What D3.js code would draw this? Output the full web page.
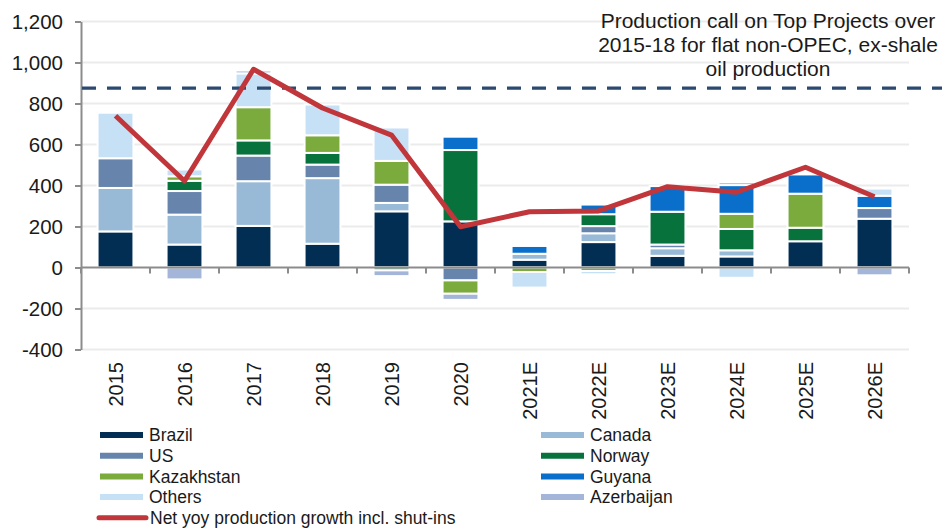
<!DOCTYPE html>
<html>
<head>
<meta charset="utf-8">
<script src="https://cdn.jsdelivr.net/npm/d3@7"></script>
<style>
  body { margin: 0; background: #fff; }
  svg text { font-family: 'Liberation Sans', Arial, sans-serif; fill: #1a1a1a; }
  .grid line { stroke: #ebebeb; stroke-width: 2; }
</style>
</head>
<body>
<div id="chart"></div>
<script>
const years = ['2015', '2016', '2017', '2018', '2019', '2020', '2021E', '2022E', '2023E', '2024E', '2025E', '2026E']
const brazil = [176, 112, 203, 116, 274, 225, 38, 124, 57, 54, 128, 238]
const canada = [212, 146, 218, 320, 41, 0, 29, 43, 37, 30, 0, 0]
const us = [145, 115, 125, 66, 89, -63, 0, 35, 18, 0, 0, 52]
const norway = [0, 50, 74, 57, -14, 348, 0, 58, 160, 104, 66, 0]
const kazakhstan = [0, 22, 162, 86, 116, -65, -22, -17, 0, 74, 166, 0]
const guyana = [0, 0, 0, 0, 0, 65, 38, 47, 125, 140, 94, 60]
const others = [222, 33, 165, 150, 163, 0, -76, -16, 0, -50, 0, 35]
const azerbaijan = [0, -58, 14, 0, -28, -30, 0, 0, 0, 14, 0, -38]
const netGrowth = [740, 422, 967, 778, 646, 199, 272, 276, 394, 367, 489, 345]
const productionCall = 875
const yTicks = [-400, -200, 0, 200, 400, 600, 800, 1000, 1200]

const series = [
  { key: 'Brazil', values: brazil, color: '#032e54' },
  { key: 'Canada', values: canada, color: '#98bad7' },
  { key: 'US', values: us, color: '#6684ac' },
  { key: 'Norway', values: norway, color: '#08723c' },
  { key: 'Kazakhstan', values: kazakhstan, color: '#7aab3c' },
  { key: 'Guyana', values: guyana, color: '#0a6fca' },
  { key: 'Others', values: others, color: '#c6e0f5' },
  { key: 'Azerbaijan', values: azerbaijan, color: '#a3b5d8' }
]

const w = 942
const h = 529
const left = 81
const right = 909

const rows = years.map((y, i) => {
  const r = { year: y }
  series.forEach((s) => (r[s.key] = s.values[i]))
  return r
})

const stack = d3
  .stack()
  .keys(series.map((s) => s.key))
  .offset(d3.stackOffsetDiverging)
const stacked = stack(rows)

const x = d3.scaleBand().domain(years).range([left, right]).paddingInner(0.48).paddingOuter(0.24)
const y = d3.scaleLinear().domain([-400, 1200]).range([349.5, 21.5])

const svg = d3.select('#chart').append('svg').attr('width', w).attr('height', h)

// grid
svg
  .append('g')
  .attr('class', 'grid')
  .selectAll('line')
  .data(yTicks.filter((d) => d !== 0))
  .join('line')
  .attr('x1', left)
  .attr('x2', right)
  .attr('y1', (d) => y(d))
  .attr('y2', (d) => y(d))

// bars
const colorOf = {}
series.forEach((s) => (colorOf[s.key] = s.color))
svg
  .append('g')
  .selectAll('g')
  .data(stacked)
  .join('g')
  .attr('fill', (d) => colorOf[d.key])
  .selectAll('rect')
  .data((d) => d.filter((p) => p[1] - p[0] !== 0))
  .join('rect')
  .attr('x', (d) => x(d.data.year))
  .attr('width', x.bandwidth())
  .attr('y', (d) => y(d[1]))
  .attr('height', (d) => y(d[0]) - y(d[1]))
  .attr('stroke', '#fff')
  .attr('stroke-width', 2)

// y axis
const yAxis = d3
  .axisLeft(y)
  .tickValues(yTicks)
  .tickFormat((d) => d3.format(',')(d).replace('\u2212', '-'))
  .tickSize(6)
  .tickSizeOuter(0)
  .tickPadding(12)
const gy = svg.append('g').attr('transform', 'translate(' + left + ',0)').call(yAxis)
gy.selectAll('path, line').attr('stroke', '#8c8c8c').attr('stroke-width', 2)
gy.selectAll('text').style('font-size', '20.5px').attr('fill', '#1a1a1a')

// zero line with category ticks
const gx = svg.append('g').attr('transform', 'translate(0,' + y(0) + ')')
gx.append('line').attr('x1', left).attr('x2', right).attr('stroke', '#8c8c8c').attr('stroke-width', 2)
gx.selectAll('.tk')
  .data(d3.range(years.length + 1))
  .join('line')
  .attr('class', 'tk')
  .attr('x1', (i) => left + i * x.step())
  .attr('x2', (i) => left + i * x.step())
  .attr('y1', 0)
  .attr('y2', 6)
  .attr('stroke', '#8c8c8c')
  .attr('stroke-width', 2)

// category labels
const xAxis = d3.axisBottom(x).tickSize(0).tickPadding(0)
const gl = svg.append('g').attr('transform', 'translate(0,362)').call(xAxis)
gl.select('.domain').remove()
gl.selectAll('text')
  .style('font-size', '20px')
  .attr('fill', '#1a1a1a')
  .attr('transform', 'rotate(-90)')
  .attr('text-anchor', 'end')
  .attr('x', 0)
  .attr('y', 0)
  .attr('dy', '0.35em')

// dashed production call
svg
  .append('line')
  .attr('x1', 82)
  .attr('x2', w)
  .attr('y1', y(productionCall))
  .attr('y2', y(productionCall))
  .attr('stroke', '#2b4a6f')
  .attr('stroke-width', 3.3)
  .attr('stroke-dasharray', '14 11')

// net growth line
const line = d3
  .line()
  .x((d, i) => x(years[i]) + x.bandwidth() / 2)
  .y((d) => y(d))
svg
  .append('path')
  .datum(netGrowth)
  .attr('d', line)
  .attr('fill', 'none')
  .attr('stroke', '#c0363a')
  .attr('stroke-width', 5)
  .attr('stroke-linejoin', 'round')

// annotation
const note = ['Production call on Top Projects over', '2015-18 for flat non-OPEC, ex-shale', 'oil production']
svg
  .append('g')
  .selectAll('text')
  .data(note)
  .join('text')
  .attr('x', 768)
  .attr('y', (d, i) => 28 + i * 24)
  .attr('text-anchor', 'middle')
  .style('font-size', '21px')
  .text((d) => d)

// legend
const legendItems = [
  { key: 'Brazil', col: 0, row: 0 },
  { key: 'Canada', col: 1, row: 0 },
  { key: 'US', col: 0, row: 1 },
  { key: 'Norway', col: 1, row: 1 },
  { key: 'Kazakhstan', col: 0, row: 2 },
  { key: 'Guyana', col: 1, row: 2 },
  { key: 'Others', col: 0, row: 3 },
  { key: 'Azerbaijan', col: 1, row: 3 }
]
const legend = svg.append('g').attr('id', 'legend')
const colX = [100, 541]
const rowY = (r) => 435 + r * 20.7
legendItems.forEach((it) => {
  legend
    .append('line')
    .attr('x1', colX[it.col])
    .attr('x2', colX[it.col] + 43)
    .attr('y1', rowY(it.row))
    .attr('y2', rowY(it.row))
    .attr('stroke', colorOf[it.key])
    .attr('stroke-width', 6)
  legend
    .append('text')
    .attr('x', colX[it.col] + 49)
    .attr('y', rowY(it.row))
    .attr('dy', '0.35em')
    .style('font-size', '17.5px')
    .text(it.key)
})
legend
  .append('line')
  .attr('x1', 99)
  .attr('x2', 146)
  .attr('y1', rowY(4))
  .attr('y2', rowY(4))
  .attr('stroke', '#c0363a')
  .attr('stroke-width', 5)
  .attr('stroke-linecap', 'round')
legend
  .append('text')
  .attr('x', 150)
  .attr('y', rowY(4))
  .attr('dy', '0.35em')
  .style('font-size', '17.5px')
  .text('Net yoy production growth incl. shut-ins')
</script>
</body>
</html>
